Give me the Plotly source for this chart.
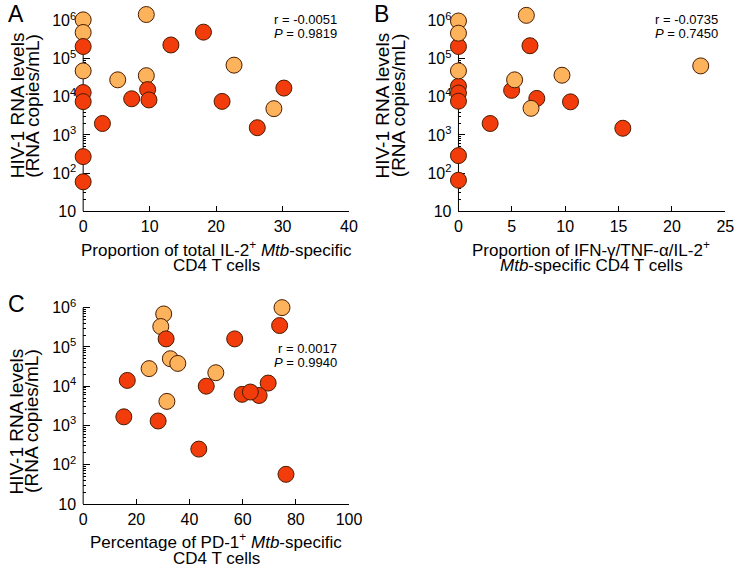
import plotly.graph_objects as go

# ---------------- data ----------------
A_orange_x = [0, 0, 0, 9.5, 22.7, 5.2, 9.5, 28.7]
A_orange_y = [1.05e6, 4.9e5, 4.8e4, 1.45e6, 6.8e4, 2.8e4, 3.6e4, 4.9e3]
A_red_x = [0, 0, 0, 0, 0, 18.1, 13.2, 9.7, 9.9, 7.3, 2.9, 30.2, 20.9, 26.2]
A_red_y = [2.1e5, 1.3e4, 7.5e3, 270, 59, 5.0e5, 2.3e5, 1.55e4, 8.3e3, 8.9e3, 2.0e3, 1.7e4, 7.6e3, 1.55e3]

B_orange_x = [0, 0, 0, 6.36, 22.7, 9.7, 5.26, 6.8]
B_orange_y = [9.8e5, 4.7e5, 4.8e4, 1.38e6, 6.5e4, 3.7e4, 2.8e4, 5.0e3]
B_red_x = [0, 0, 0, 0, 0, 0, 6.7, 4.98, 7.34, 10.5, 2.97, 15.4]
B_red_y = [2.1e5, 1.9e4, 1.26e4, 7.7e3, 287, 65, 2.2e5, 1.48e4, 9.1e3, 7.4e3, 2.0e3, 1.5e3]

C_orange_x = [74.8, 30.3, 29.2, 32.8, 35.6, 24.8, 49.9, 31.5]
C_orange_y = [1.0e6, 6.9e5, 3.3e5, 5.0e4, 3.8e4, 2.8e4, 2.2e4, 4.1e3]
C_red_x = [73.9, 31.2, 57.0, 16.6, 46.3, 69.6, 59.8, 66.2, 62.9, 15.3, 28.2, 43.5, 76.3]
C_red_y = [3.5e5, 1.6e5, 1.6e5, 1.4e4, 1.0e4, 1.2e4, 6.2e3, 5.8e3, 7.1e3, 1.66e3, 1.3e3, 250, 57]

y_tickvals = [10, 100, 1000, 1e4, 1e5, 1e6]
y_ticktext = ["10", "10<sup>2</sup>", "10<sup>3</sup>", "10<sup>4</sup>", "10<sup>5</sup>", "10<sup>6</sup>"]
A_xticks = [0, 10, 20, 30, 40]
B_xticks = [0, 5, 10, 15, 20, 25]
C_xticks = [0, 20, 40, 60, 80, 100]

stats = {"A": ("-0.0051", "0.9819"), "B": ("-0.0735", "0.7450"), "C": ("0.0017", "0.9940")}

# ---------------- style ----------------
W, H = 750, 577
ORANGE = "#FDB35C"
RED = "#F23C0C"
EDGE = "#4a1c00"
FONT = "Liberation Sans, Arial, sans-serif"
LOG_LO, LOG_HI, LOG_EXT = 1, 6, 6.5   # axis line spans LO..HI; range extends to EXT so top markers show

minor_vals = [m * 10 ** k for k in range(1, 6) for m in range(2, 10)]


def px_x(p):
    return p / W


def px_y(p):
    return 1 - p / H


fig = go.Figure()


def add_pts(xs, ys, color, xa, ya):
    fig.add_trace(go.Scatter(
        x=xs, y=ys, mode="markers", xaxis=xa, yaxis=ya, cliponaxis=False,
        showlegend=False, hoverinfo="skip",
        marker=dict(size=16, color=color, line=dict(color=EDGE, width=1)),
    ))


add_pts(A_orange_x, A_orange_y, ORANGE, "x", "y")
add_pts(A_red_x, A_red_y, RED, "x", "y")
add_pts(B_red_x, B_red_y, RED, "x2", "y2")
add_pts(B_orange_x, B_orange_y, ORANGE, "x2", "y2")
add_pts(C_orange_x, C_orange_y, ORANGE, "x3", "y3")
add_pts(C_red_x, C_red_y, RED, "x3", "y3")

# panel pixel boxes: (left, right, top of 10^6, bottom at 10)
boxes = {
    "A": (81, 353, 21, 214.5),
    "B": (465, 738, 21, 214.5),
    "C": (81, 353, 312.5, 512),
}


def xaxis(box, rng, ticks, anchor):
    return dict(
        domain=[px_x(box[0]), px_x(box[1])], range=rng, anchor=anchor,
        tickvals=ticks, ticks="inside", ticklen=5, tickcolor="black",
        showline=True, linecolor="black", linewidth=1, mirror=False,
        showgrid=False, zeroline=False, layer="below traces",
        tickfont=dict(family=FONT, size=16, color="black"),
        ticklabelstandoff=1, fixedrange=True,
    )


def yaxis(box, anchor):
    per_dec = (box[3] - box[2]) / (LOG_HI - LOG_LO)
    top = box[2] - (LOG_EXT - LOG_HI) * per_dec
    return dict(
        domain=[px_y(box[3]), px_y(top)], type="log", range=[LOG_LO, LOG_EXT], anchor=anchor,
        tickvals=y_tickvals, ticktext=y_ticktext, ticks="inside", ticklen=7,
        tickcolor="black",
        minor=dict(ticks="inside", ticklen=3, tickcolor="black", tickvals=minor_vals, showgrid=False),
        showline=False,
        showgrid=False, zeroline=False, layer="below traces",
        tickfont=dict(family=FONT, size=16, color="black"),
        ticklabelstandoff=6, fixedrange=True,
    )


fig.update_layout(
    width=W, height=H, margin=dict(l=0, r=0, t=0, b=0),
    paper_bgcolor="white", plot_bgcolor="white",
    xaxis=xaxis(boxes["A"], [0, 40], A_xticks, "y"),
    yaxis=yaxis(boxes["A"], "x"),
    xaxis2=xaxis(boxes["B"], [0, 25], B_xticks, "y2"),
    yaxis2=yaxis(boxes["B"], "x2"),
    xaxis3=xaxis(boxes["C"], [0, 100], C_xticks, "y3"),
    yaxis3=yaxis(boxes["C"], "x3"),
    font=dict(family=FONT, color="black"),
    hovermode=False,
)

# vertical axis line from 10 up to 10^6 only (fraction of the extended domain)
frac = (LOG_HI - LOG_LO) / (LOG_EXT - LOG_LO)
for xr, yr in (("x", "y"), ("x2", "y2"), ("x3", "y3")):
    fig.add_shape(type="line", xref=f"{xr} domain", yref=f"{yr} domain",
                  x0=0, x1=0, y0=0, y1=frac, layer="below",
                  line=dict(color="black", width=1))

ann = []


def text(x, y, s, size, angle=0, xanchor="center", align="center", yanchor="middle"):
    ann.append(dict(
        x=px_x(x), y=px_y(y), xref="paper", yref="paper", text=s, showarrow=False,
        font=dict(family=FONT, size=size, color="black"), textangle=angle,
        xanchor=xanchor, yanchor=yanchor, align=align, borderpad=0,
    ))


# panel letters
text(3, 0, "A", 23, xanchor="left", yanchor="top")
text(378, 0, "B", 23, xanchor="left", yanchor="top")
text(3, 295, "C", 23, xanchor="left", yanchor="top")

# y titles (two lines each)
for (l1, l2, cy) in ((13.3, 29, 107), (387, 403, 107), (12.5, 28.2, 428)):
    text(l1, cy, "HIV-1 RNA levels", 19, angle=-90)
    text(l2, cy, "(RNA copies/mL)", 19, angle=-90)

# x titles
text(217, 253, "Proportion of total IL-2<sup>+</sup> <i>Mtb</i>-specific", 17)
text(217, 270, "CD4 T cells", 17)
text(601, 253, "Proportion of IFN-\u03b3/TNF-\u03b1/IL-2<sup>+</sup>", 17)
text(601, 270, "<i>Mtb</i>-specific CD4 T cells", 17)
text(217, 550, "Percentage of PD-1<sup>+</sup> <i>Mtb</i>-specific", 17)
text(217, 567, "CD4 T cells", 17)

# stats
for key, (rx, ry) in (("A", (342, 20)), ("B", (732, 20)), ("C", (342, 354))):
    r, p = stats[key]
    text(rx, ry, f"r = {r}", 13, xanchor="right", align="right")
    text(rx, ry + 14.5, f"<i>P</i> = {p}", 13, xanchor="right", align="right")

fig.update_layout(annotations=ann)
fig.write_html(
    "out.html",
    config={"displayModeBar": False, "staticPlot": True},
    post_script="document.body.style.margin='0';document.body.style.overflow='hidden';",
)
